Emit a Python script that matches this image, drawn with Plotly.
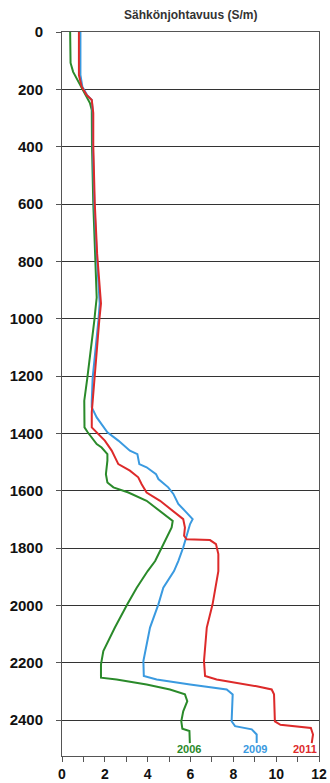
import plotly.graph_objects as go

# Depth (m) and electrical conductivity (S/m) profiles for each survey year
depth_2006 = [0, 108, 139, 203, 249, 272, 395, 598, 773, 926, 975, 1006, 1208, 1286, 1379, 1396,
              1437, 1449, 1472, 1495, 1542, 1571, 1588, 1606, 1635, 1670, 1705, 1728, 1763, 1798,
              1845, 1880, 1938, 1996, 2077, 2159, 2205, 2252, 2258, 2276, 2293, 2310, 2334, 2369,
              2404, 2430, 2438, 2480]
sigma_2006 = [0.38, 0.40, 0.52, 1.00, 1.31, 1.39, 1.40, 1.46, 1.54, 1.62, 1.55, 1.51, 1.18, 1.04, 1.05, 1.20,
              1.62, 1.85, 2.12, 2.12, 2.05, 2.12, 2.40, 3.10, 3.95, 4.58, 5.17, 5.12, 4.89, 4.65,
              4.35, 4.00, 3.49, 3.05, 2.47, 1.93, 1.82, 1.82, 2.55, 3.95, 5.04, 5.74, 5.85, 5.66,
              5.57, 5.62, 5.95, 5.97]

depth_2009 = [0, 150, 191, 220, 237, 283, 395, 598, 773, 890, 947, 1006, 1208, 1286, 1309, 1344,
              1396, 1425, 1460, 1472, 1507, 1518, 1542, 1559, 1588, 1611, 1646, 1670, 1699, 1716,
              1763, 1798, 1845, 1880, 1938, 1996, 2077, 2159, 2194, 2246, 2258, 2276, 2293, 2310,
              2404, 2421, 2432, 2450, 2480]
sigma_2009 = [0.86, 0.86, 0.95, 1.17, 1.39, 1.44, 1.44, 1.51, 1.62, 1.72, 1.76, 1.70, 1.43, 1.39, 1.39, 1.62,
              2.12, 2.63, 3.17, 3.52, 3.61, 3.95, 4.39, 4.50, 4.96, 5.20, 5.43, 5.74, 6.10, 5.98,
              5.79, 5.66, 5.43, 5.23, 4.73, 4.50, 4.11, 3.87, 3.80, 3.82, 4.42, 5.98, 7.69, 7.97,
              7.92, 8.08, 8.86, 9.09, 9.09]

depth_2011 = [0, 150, 191, 220, 237, 283, 395, 598, 773, 890, 947, 1006, 1208, 1286, 1326, 1379,
              1396, 1425, 1460, 1507, 1530, 1553, 1577, 1606, 1635, 1670, 1699, 1728, 1757, 1769,
              1772, 1786, 1821, 1880, 1996, 2077, 2194, 2246, 2258, 2282, 2293, 2310, 2404, 2416,
              2427, 2450, 2480]
sigma_2011 = [0.79, 0.79, 0.92, 1.15, 1.39, 1.46, 1.46, 1.53, 1.64, 1.76, 1.82, 1.74, 1.54, 1.46, 1.39, 1.39,
              1.62, 2.00, 2.32, 2.63, 3.17, 3.56, 3.72, 3.95, 4.58, 5.20, 5.66, 5.74, 5.70, 5.82,
              6.91, 7.19, 7.30, 7.30, 7.03, 6.76, 6.63, 6.68, 7.22, 9.09, 9.79, 9.90, 9.94, 10.20,
              11.62, 11.72, 11.66]

years = ["2006", "2009", "2011"]
colors = ["#2a8a2a", "#3a9ae0", "#dd2a2a"]
label_x = [5.93, 9.0, 11.35]
label_depth = 2500

series = [(depth_2006, sigma_2006), (depth_2009, sigma_2009), (depth_2011, sigma_2011)]

fig = go.Figure()
for (d, s), name, c in zip(series, years, colors):
    fig.add_trace(go.Scatter(x=s, y=d, mode="lines", name=name,
                             line=dict(color=c, width=2), showlegend=False))

for name, c, lx in zip(years, colors, label_x):
    fig.add_annotation(x=lx, y=label_depth, text=name, showarrow=False,
                       xanchor="center", yanchor="middle",
                       font=dict(family="Liberation Sans", size=11, color=c, weight="bold"))

fig.update_layout(
    width=330, height=783,
    margin=dict(l=62, r=11, t=32, b=27, autoexpand=False),
    paper_bgcolor="white", plot_bgcolor="white",
    font=dict(family="Liberation Sans", color="#111"),
    title=dict(text="Sähkönjohtavuus (S/m)", x=0.578, xanchor="center", y=0.981, yanchor="middle",
               font=dict(family="Liberation Sans", size=12, color="#333", weight="bold")),
)

fig.update_xaxes(
    range=[0, 12], dtick=2, tick0=0, side="bottom", automargin=False,
    showgrid=False, zeroline=False,
    showline=True, linecolor="#555", linewidth=1, mirror=True,
    ticks="outside", ticklen=5, tickcolor="#555",
    minor=dict(dtick=1, ticks="outside", ticklen=5, tickcolor="#555", showgrid=False),
    tickfont=dict(family="Liberation Sans", size=14, color="#111", weight="bold"),
    ticklabelstandoff=0,
)
fig.update_yaxes(
    range=[2525, 0], dtick=200, tick0=0, automargin=False,
    showgrid=True, gridcolor="#333", gridwidth=1, zeroline=False,
    showline=True, linecolor="#555", linewidth=1, mirror=True,
    ticks="outside", ticklen=5, tickcolor="#555",
    tickfont=dict(family="Liberation Sans", size=15, color="#111", weight="bold"),
    ticklabelstandoff=10,
)

fig.write_html("out.html")
